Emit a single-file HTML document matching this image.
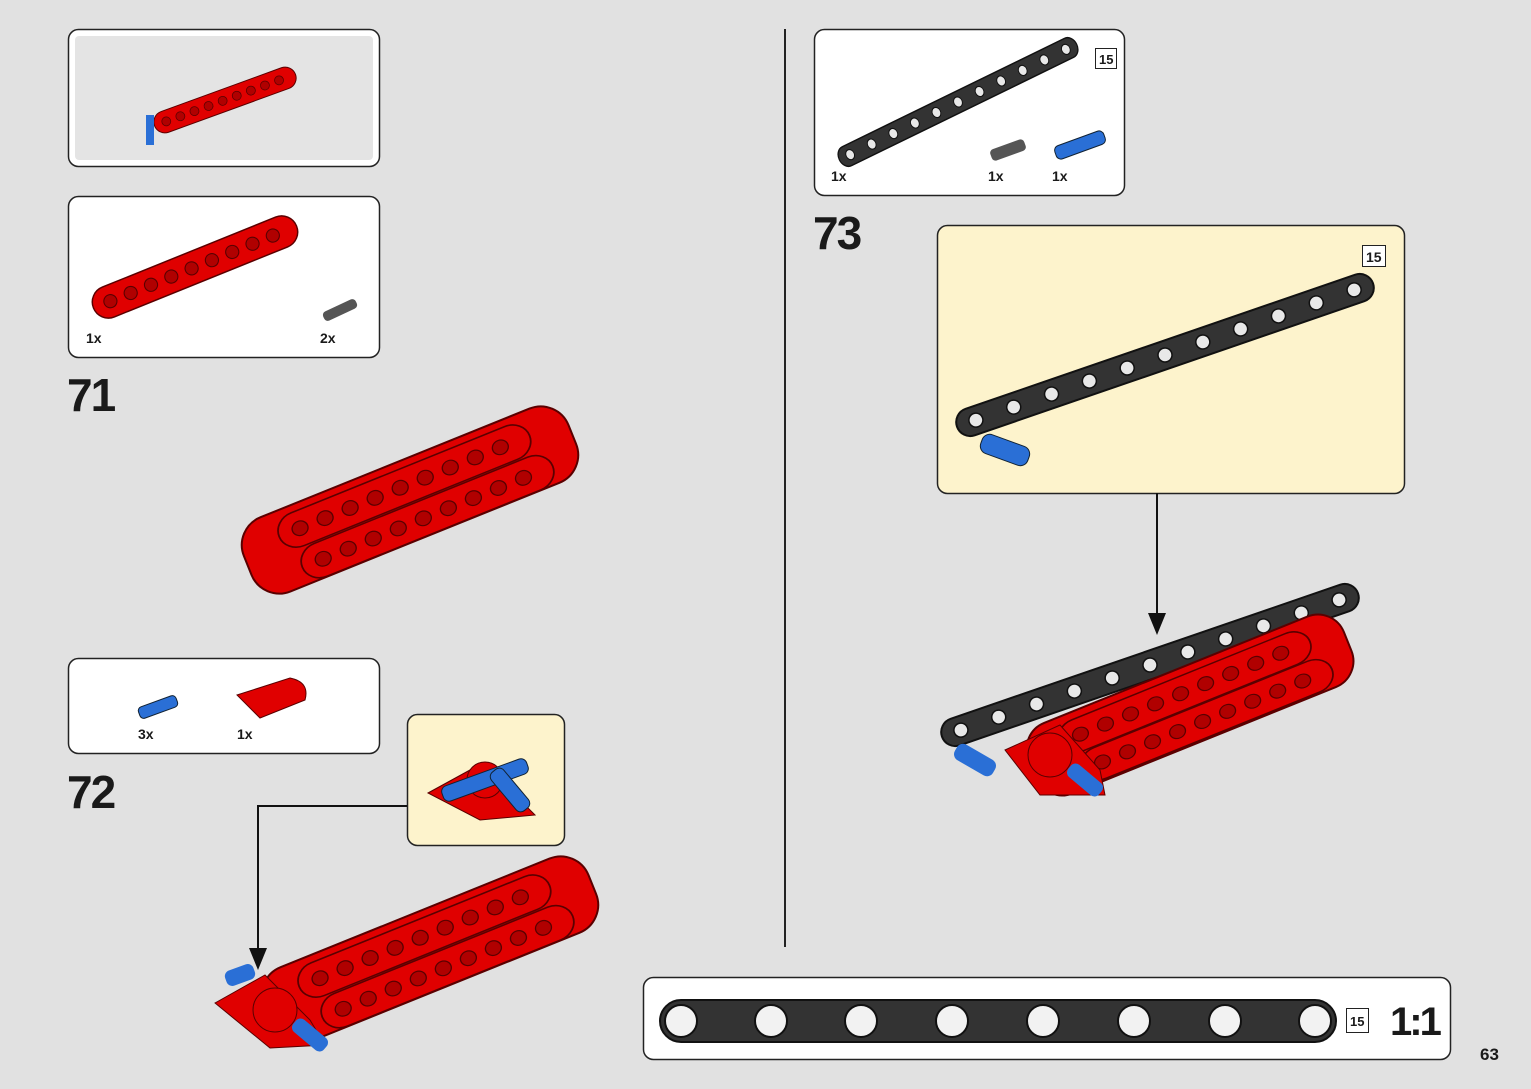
<!DOCTYPE html>
<html><head><meta charset="utf-8">
<style>
html,body{margin:0;padding:0;background:#e1e1e1;}
svg{display:block;}
text{font-family:"Liberation Sans",sans-serif;font-weight:bold;fill:#1a1a1a;}
</style></head>
<body>
<svg width="1531" height="1089" viewBox="0 0 1531 1089" xmlns="http://www.w3.org/2000/svg">
<defs>
  <g id="redbeam">
    <rect x="-150" y="-22" width="300" height="44" rx="22" fill="#e00000" stroke="#5a0000" stroke-width="2"/>
    <g fill="#b00000" stroke="#5a0000" stroke-width="1.5">
      <circle cx="-125" cy="0" r="9"/><circle cx="-95" cy="0" r="9"/><circle cx="-65" cy="0" r="9"/>
      <circle cx="-35" cy="0" r="9"/><circle cx="-5" cy="0" r="9"/><circle cx="25" cy="0" r="9"/>
      <circle cx="55" cy="0" r="9"/><circle cx="85" cy="0" r="9"/><circle cx="115" cy="0" r="9"/>
    </g>
  </g>
  <g id="blackbeam">
    <rect x="-220" y="-14" width="440" height="28" rx="14" fill="#333" stroke="#111" stroke-width="2"/>
    <g fill="#e8e8e8" stroke="#111" stroke-width="1.5">
      <circle cx="-200" cy="0" r="7"/><circle cx="-160" cy="0" r="7"/><circle cx="-120" cy="0" r="7"/>
      <circle cx="-80" cy="0" r="7"/><circle cx="-40" cy="0" r="7"/><circle cx="0" cy="0" r="7"/>
      <circle cx="40" cy="0" r="7"/><circle cx="80" cy="0" r="7"/><circle cx="120" cy="0" r="7"/>
      <circle cx="160" cy="0" r="7"/><circle cx="200" cy="0" r="7"/>
    </g>
  </g>
</defs>

<rect x="68.5" y="29.5" width="311" height="137" rx="10" fill="#fff" stroke="#222" stroke-width="1.5"/>
<rect x="75" y="36" width="298" height="124" rx="4" fill="#e4e4e4"/>
<g transform="translate(225,100) rotate(-20) scale(0.5)"><use href="#redbeam"/></g>
<rect x="146" y="115" width="8" height="30" fill="#2a6fd6"/>

<rect x="68.5" y="196.5" width="311" height="161" rx="10" fill="#fff" stroke="#222" stroke-width="1.5"/>
<g transform="translate(195,267) rotate(-22) scale(0.73)"><use href="#redbeam"/></g>
<g transform="translate(340,310) rotate(-25)"><rect x="-18" y="-5" width="36" height="10" rx="4" fill="#555"/></g>
<text x="86" y="343" font-size="14">1x</text>
<text x="320" y="343" font-size="14">2x</text>

<text x="67" y="411" font-size="46" letter-spacing="-2">71</text>

<g transform="translate(410,500) rotate(-22)">
  <rect x="-175" y="-40" width="350" height="80" rx="30" fill="#e00000" stroke="#5a0000" stroke-width="2"/>
  <g transform="translate(0,-15) scale(0.9,0.8)"><use href="#redbeam"/></g>
  <g transform="translate(10,22) scale(0.9,0.8)"><use href="#redbeam"/></g>
</g>

<rect x="68.5" y="658.5" width="311" height="95" rx="10" fill="#fff" stroke="#222" stroke-width="1.5"/>
<g transform="translate(158,707) rotate(-20)"><rect x="-20" y="-6" width="40" height="12" rx="4" fill="#2a6fd6" stroke="#123" /></g>
<path d="M237 695 L290 678 Q310 682 305 700 L260 718 Z" fill="#e00000" stroke="#5a0000"/>
<text x="138" y="739" font-size="14">3x</text>
<text x="237" y="739" font-size="14">1x</text>

<text x="67" y="808" font-size="46" letter-spacing="-2">72</text>

<rect x="407.5" y="714.5" width="157" height="131" rx="10" fill="#fdf3cc" stroke="#222" stroke-width="1.5"/>
<path d="M428 793 L470 770 L520 800 L535 815 L480 820 Z" fill="#e00000" stroke="#5a0000"/>
<circle cx="485" cy="780" r="18" fill="#e00000" stroke="#5a0000"/>
<g transform="translate(485,780) rotate(-20)"><rect x="-45" y="-8" width="90" height="16" rx="6" fill="#2a6fd6" stroke="#123"/></g>
<g transform="translate(510,790) rotate(50)"><rect x="-25" y="-8" width="50" height="16" rx="6" fill="#2a6fd6" stroke="#123"/></g>

<polyline points="407,806 258,806 258,955" fill="none" stroke="#111" stroke-width="2"/>
<polygon points="249,948 267,948 258,970" fill="#111"/>

<g transform="translate(430,950) rotate(-22)">
  <rect x="-175" y="-40" width="350" height="80" rx="30" fill="#e00000" stroke="#5a0000" stroke-width="2"/>
  <g transform="translate(0,-15) scale(0.9,0.8)"><use href="#redbeam"/></g>
  <g transform="translate(10,22) scale(0.9,0.8)"><use href="#redbeam"/></g>
</g>
<path d="M215 1003 L265 975 L310 1020 L325 1045 L270 1048 Z" fill="#e00000" stroke="#5a0000"/>
<circle cx="275" cy="1010" r="22" fill="#e00000" stroke="#5a0000"/>
<g transform="translate(240,975) rotate(-20)"><rect x="-15" y="-8" width="30" height="16" rx="6" fill="#2a6fd6"/></g>
<g transform="translate(310,1035) rotate(40)"><rect x="-20" y="-8" width="40" height="16" rx="6" fill="#2a6fd6"/></g>

<line x1="785" y1="29" x2="785" y2="947" stroke="#222" stroke-width="2"/>

<rect x="814.5" y="29.5" width="310" height="166" rx="10" fill="#fff" stroke="#222" stroke-width="1.5"/>
<g transform="translate(958,102) rotate(-26) scale(0.6,0.75)"><use href="#blackbeam"/></g>
<g transform="translate(1008,150) rotate(-20)"><rect x="-18" y="-6" width="36" height="12" rx="4" fill="#555"/></g>
<g transform="translate(1080,145) rotate(-20)"><rect x="-26" y="-7" width="52" height="14" rx="5" fill="#2a6fd6" stroke="#123"/></g>
<rect x="1095.5" y="48.5" width="21" height="20" fill="#fff" stroke="#222"/>
<text x="1099" y="64" font-size="13" font-weight="normal">15</text>
<text x="831" y="181" font-size="14">1x</text>
<text x="988" y="181" font-size="14">1x</text>
<text x="1052" y="181" font-size="14">1x</text>

<text x="813" y="249" font-size="46" letter-spacing="-2">73</text>

<rect x="937.5" y="225.5" width="467" height="268" rx="10" fill="#fdf3cc" stroke="#222" stroke-width="1.5"/>
<g transform="translate(1165,355) rotate(-19)"><use href="#blackbeam"/></g>
<g transform="translate(1005,450) rotate(20)"><rect x="-25" y="-10" width="50" height="20" rx="8" fill="#2a6fd6" stroke="#123"/></g>
<rect x="1362.5" y="245.5" width="23" height="21" fill="#fff" stroke="#222"/>
<text x="1366" y="262" font-size="14" font-weight="normal">15</text>

<line x1="1157" y1="493" x2="1157" y2="615" stroke="#111" stroke-width="2"/>
<polygon points="1148,613 1166,613 1157,635" fill="#111"/>

<g transform="translate(1150,665) rotate(-19)"><use href="#blackbeam"/></g>
<g transform="translate(1190,705) rotate(-22)">
  <rect x="-170" y="-38" width="340" height="76" rx="28" fill="#e00000" stroke="#5a0000" stroke-width="2"/>
  <g transform="translate(0,-14) scale(0.9,0.75)"><use href="#redbeam"/></g>
  <g transform="translate(10,20) scale(0.9,0.75)"><use href="#redbeam"/></g>
</g>
<path d="M1005 750 L1060 725 L1100 770 L1105 795 L1040 795 Z" fill="#e00000" stroke="#5a0000"/>
<circle cx="1050" cy="755" r="22" fill="#e00000" stroke="#5a0000"/>
<g transform="translate(975,760) rotate(30)"><rect x="-22" y="-9" width="44" height="18" rx="7" fill="#2a6fd6"/></g>
<g transform="translate(1085,780) rotate(40)"><rect x="-20" y="-8" width="40" height="16" rx="6" fill="#2a6fd6"/></g>

<rect x="643.5" y="977.5" width="807" height="82" rx="10" fill="#fff" stroke="#222" stroke-width="1.5"/>
<rect x="660" y="1000" width="676" height="42" rx="21" fill="#333" stroke="#111" stroke-width="2"/>
<g fill="#f2f2f2" stroke="#111" stroke-width="2">
  <circle cx="681" cy="1021" r="16"/><circle cx="771" cy="1021" r="16"/><circle cx="861" cy="1021" r="16"/>
  <circle cx="952" cy="1021" r="16"/><circle cx="1043" cy="1021" r="16"/><circle cx="1134" cy="1021" r="16"/>
  <circle cx="1225" cy="1021" r="16"/><circle cx="1315" cy="1021" r="16"/>
</g>
<rect x="1346.5" y="1008.5" width="22" height="24" fill="#fff" stroke="#222"/>
<text x="1350" y="1026" font-size="13" font-weight="normal">15</text>
<text x="1390" y="1035" font-size="40" letter-spacing="-3">1:1</text>

<text x="1480" y="1060" font-size="17">63</text>
</svg>
</body></html>
